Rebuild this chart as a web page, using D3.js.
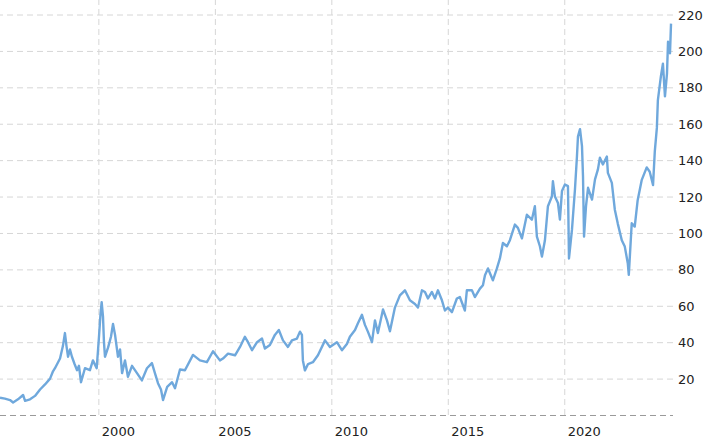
<!DOCTYPE html>
<html>
<head>
<meta charset="utf-8">
<script src="https://cdn.jsdelivr.net/npm/d3@7"></script>
<style>
  body { margin: 0; background: #fff; }
  #chart { width: 710px; height: 438px; }
  .axis text { font-family: "DejaVu Sans", Verdana, sans-serif; font-size: 13px; fill: #222; }
  .axis .domain { display: none; }
  .axis line { stroke: #d6d6d6; stroke-dasharray: 6,4; }
  .baseline { stroke: #9a9a9a; stroke-dasharray: 6,4; }
  .price-line { fill: none; stroke: #6fa8dc; stroke-width: 2.4; stroke-linejoin: round; }
</style>
</head>
<body>
<div id="chart"></div>
<script>
'use strict';

// Dates and closing prices.
var dates = [
  '1995-10-12','1995-12-28','1996-03-17','1996-05-04','1996-07-20','1996-10-08','1996-11-08','1997-01-25',
  '1997-04-13','1997-07-01','1997-09-17','1997-12-05','1998-01-20','1998-02-20','1998-05-10','1998-06-25',
  '1998-07-26','1998-08-19','1998-09-13','1998-10-13','1998-11-13','1998-12-24','1999-02-01','1999-03-03',
  '1999-04-04','1999-06-05','1999-08-22','1999-10-08','1999-12-06','2000-01-11','2000-02-03','2000-02-22',
  '2000-03-14','2000-03-29','2000-04-14','2000-06-01','2000-07-17','2000-08-18','2000-09-19','2000-11-04',
  '2000-12-06','2001-01-07','2001-02-22','2001-04-09','2001-06-12','2001-08-29','2001-11-14','2002-02-01',
  '2002-04-20','2002-06-06','2002-07-24','2002-09-09','2002-10-11','2002-12-15','2003-03-02','2003-04-17',
  '2003-07-04','2003-09-20','2004-01-24','2004-05-12','2004-08-29','2004-12-03','2005-03-21','2005-05-08',
  '2005-07-26','2005-11-13','2006-01-30','2006-04-17','2006-06-04','2006-08-07','2006-10-24','2007-01-10',
  '2007-02-25','2007-05-14','2007-07-31','2007-10-01','2007-12-05','2008-02-21','2008-04-23','2008-07-11',
  '2008-08-27','2008-09-27','2008-10-12','2008-11-13','2009-01-01','2009-03-18','2009-06-05','2009-09-24',
  '2009-12-10','2010-03-29','2010-06-16','2010-09-02','2010-10-19','2011-01-07','2011-02-22','2011-04-26',
  '2011-06-12','2011-07-28','2011-09-30','2011-11-16','2012-01-01','2012-03-21','2012-05-22','2012-07-08',
  '2012-09-24','2012-12-11','2013-02-28','2013-05-17','2013-08-04','2013-09-20','2013-11-22','2014-01-08',
  '2014-02-24','2014-04-27','2014-06-13','2014-07-30','2014-10-01','2014-11-17','2015-01-03','2015-03-07',
  '2015-05-23','2015-07-09','2015-09-26','2015-10-27','2016-01-14','2016-03-01','2016-05-19','2016-07-05',
  '2016-08-06','2016-09-22','2016-12-08','2017-02-09','2017-03-28','2017-05-14','2017-07-16','2017-09-01',
  '2017-11-18','2018-01-04','2018-03-08','2018-05-25','2018-08-11','2018-09-27','2018-10-29','2018-12-15',
  '2019-01-16','2019-03-04','2019-04-20','2019-06-21','2019-07-07','2019-08-08','2019-09-24','2019-10-25',
  '2019-11-26','2020-01-12','2020-02-28','2020-03-15','2020-05-01','2020-06-17','2020-07-18','2020-08-03',
  '2020-09-04','2020-10-05','2020-10-21','2020-11-06','2020-12-07','2021-01-08','2021-03-11','2021-04-27',
  '2021-06-12','2021-07-13','2021-08-29','2021-10-30','2021-11-15','2022-01-16','2022-03-04','2022-04-20',
  '2022-06-21','2022-08-07','2022-09-23','2022-10-09','2022-11-24','2023-01-10','2023-02-25','2023-04-29',
  '2023-07-17','2023-09-02','2023-10-24','2023-11-21','2023-12-23','2024-01-08','2024-02-24','2024-03-27',
  '2024-04-28','2024-05-30','2024-06-15','2024-07-16','2024-08-01'
];
var prices = [
  9.5, 9.0, 8.2, 6.9, 8.6, 11, 7.8, 8.6,
  10.5, 14, 16.8, 20, 24, 25.7, 31, 38,
  45, 38, 32, 36, 32, 28, 24.6, 27,
  18, 25.7, 24.6, 30, 25.7, 43, 55, 62,
  54, 40, 32, 37, 43, 50, 44, 32,
  36, 23, 30, 21, 27, 23, 19, 25.7,
  28.5, 23, 17.5, 14, 8.2, 15.5, 18, 14.7,
  25, 24.6, 33, 30, 29, 35, 30, 31,
  33.7, 32.8, 37.4, 43, 40, 35.6, 40, 42,
  36.5, 38.4, 44, 46.7, 41, 37.4, 41, 42,
  45.8, 44, 30, 24.5, 28, 29, 32.8, 41,
  37.4, 40, 35.6, 39, 43, 46.7, 50.4, 55,
  49.5, 45.8, 40, 52, 45, 58, 52, 46,
  59, 65.7, 68.5, 63, 61, 59, 68.5, 67.6,
  64, 67.6, 64, 68.5, 63, 57.4, 59, 56.5,
  64, 64.8, 57.4, 68.5, 68.5, 64.8, 69.4, 71.3,
  76.8, 80.5, 74, 80.5, 86, 94.5, 92.7, 96,
  104.6, 102.8, 97, 110, 107.3, 114.7, 98, 92.7,
  87, 96, 114.7, 120, 128.4, 120, 116.5, 107.3,
  123, 126.6, 125.7, 86, 101.8, 124, 142, 153,
  157, 147.7, 131, 98, 114.7, 124.8, 118.3, 129.4,
  134.9, 141.3, 137.6, 142, 133, 127.5, 112.8, 105,
  96, 92.5, 83.4, 77, 105.3, 103.5, 118, 129,
  136, 133.6, 126.3, 145, 157.7, 173, 186, 193,
  175, 187.7, 205, 198.7, 215
];
var yTicks = [20, 40, 60, 80, 100, 120, 140, 160, 180, 200, 220];
var xTickYears = [2000, 2005, 2010, 2015, 2020];

var parseDate = d3.timeParse('%Y-%m-%d');
var data = dates.map(function(d, i) {
    return {date: parseDate(d), value: prices[i]};
});

var plotWidth = 673;
var plotBottom = 415;

var svg = d3.select('#chart').append('svg')
    .attr('width', 710)
    .attr('height', 438);

var xScale = d3.scaleTime()
    .domain([new Date(1995, 9, 12), new Date(2024, 8, 1)])
    .range([0, plotWidth]);
var yScale = d3.scaleLinear()
    .domain([0, 220])
    .range([plotBottom, 14.5]);

// Horizontal grid + labels on the right.
var yAxis = d3.axisRight(yScale)
    .tickValues(yTicks)
    .tickSize(-plotWidth)
    .tickPadding(5);
svg.append('g')
    .attr('class', 'axis')
    .attr('transform', 'translate(' + plotWidth + ',0)')
    .call(yAxis)
    .selectAll('text')
    .attr('dy', '0.35em');

// Vertical grid + year labels, left aligned to the line.
var xAxis = d3.axisBottom(xScale)
    .tickValues(xTickYears.map(function(y) { return new Date(y, 0, 1); }))
    .tickFormat(d3.timeFormat('%Y'))
    .tickSize(-plotBottom)
    .tickPadding(12);
svg.append('g')
    .attr('class', 'axis')
    .attr('transform', 'translate(0,' + plotBottom + ')')
    .call(xAxis)
    .selectAll('text')
    .attr('text-anchor', 'start')
    .attr('x', 3);

// Zero line.
svg.append('line')
    .attr('class', 'baseline')
    .attr('x1', 0)
    .attr('x2', plotWidth)
    .attr('y1', yScale(0) + 0.5)
    .attr('y2', yScale(0) + 0.5);

var line = d3.line()
    .x(function(d) { return xScale(d.date); })
    .y(function(d) { return yScale(d.value); });

svg.append('path')
    .datum(data)
    .attr('class', 'price-line')
    .attr('d', line);
</script>
</body>
</html>
